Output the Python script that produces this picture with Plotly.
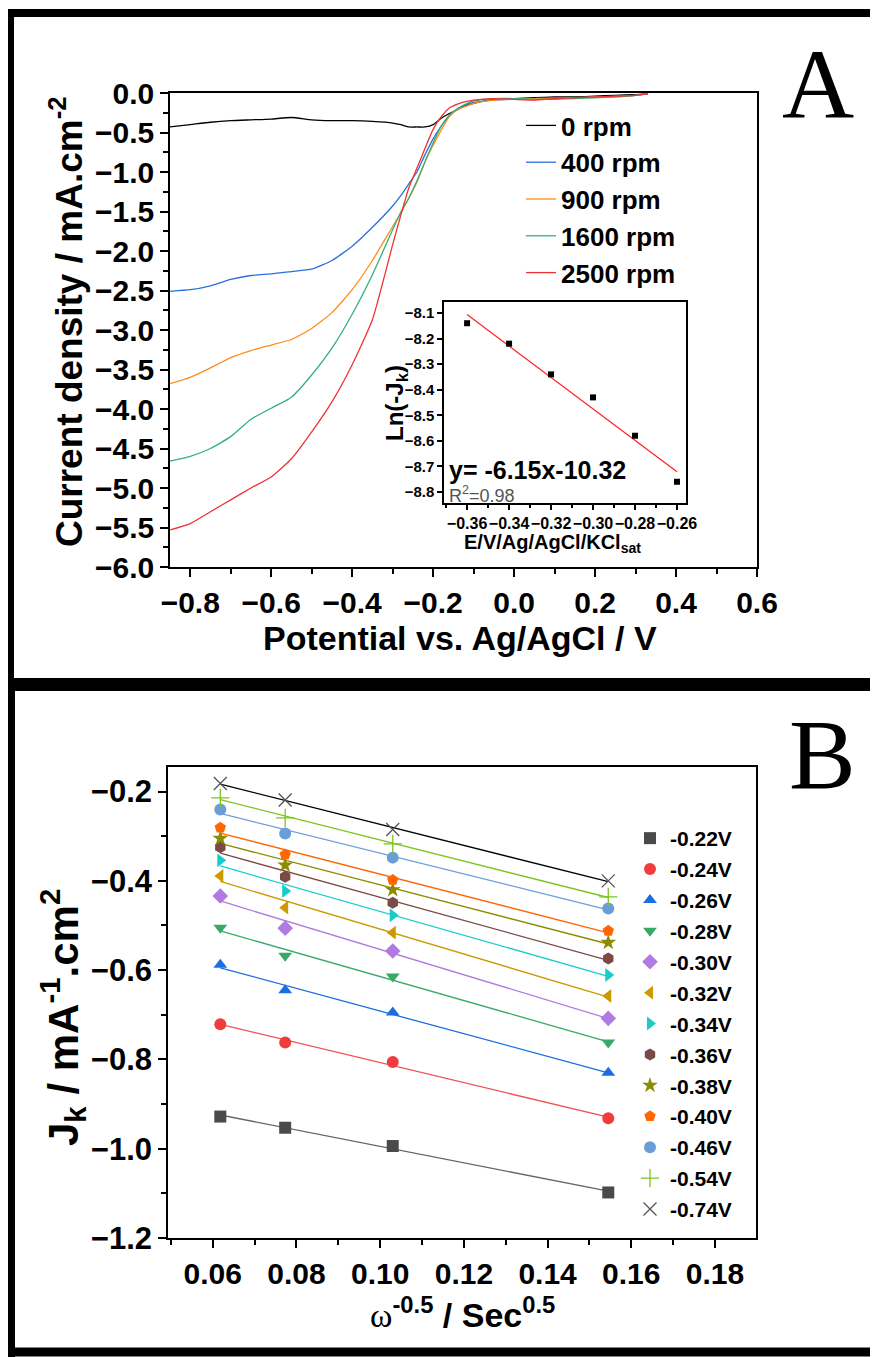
import numpy as np
import plotly.graph_objects as go

PAGE_W, PAGE_H = 878, 1357
OFF = 8  # default page body margin
W, H = PAGE_W - OFF, PAGE_H - OFF
SANS = "Liberation Sans"
SERIF = "Liberation Serif"

# ---------------- Panel A data (LSV curves) ----------------
potential = [-0.85, -0.80, -0.75, -0.70, -0.65, -0.60, -0.55, -0.50, -0.45, -0.40,
             -0.35, -0.30, -0.28, -0.26, -0.24, -0.22, -0.20, -0.18, -0.16, -0.14,
             -0.12, -0.10, -0.05, 0.00, 0.05, 0.10, 0.15, 0.20, 0.25, 0.30, 0.33]
j_0rpm = [-0.43, -0.40, -0.37, -0.35, -0.34, -0.33, -0.31, -0.34, -0.35, -0.35,
          -0.36, -0.38, -0.40, -0.43, -0.43, -0.43, -0.40, -0.32, -0.26, -0.21,
          -0.16, -0.13, -0.08, -0.07, -0.06, -0.05, -0.05, -0.04, -0.03, -0.02, -0.01]
j_400rpm = [-2.51, -2.49, -2.44, -2.36, -2.31, -2.29, -2.26, -2.23, -2.12, -1.94,
            -1.70, -1.43, -1.30, -1.15, -1.00, -0.78, -0.58, -0.42, -0.29, -0.20,
            -0.15, -0.12, -0.09, -0.08, -0.07, -0.06, -0.06, -0.05, -0.04, -0.03, -0.01]
j_900rpm = [-3.68, -3.60, -3.48, -3.35, -3.26, -3.19, -3.12, -2.98, -2.78, -2.49,
            -2.12, -1.69, -1.52, -1.33, -1.13, -0.87, -0.66, -0.47, -0.30, -0.21,
            -0.17, -0.13, -0.09, -0.08, -0.07, -0.07, -0.06, -0.05, -0.05, -0.03, -0.01]
j_1600rpm = [-4.66, -4.60, -4.50, -4.35, -4.13, -3.99, -3.85, -3.57, -3.23, -2.80,
             -2.30, -1.73, -1.51, -1.33, -1.11, -0.87, -0.63, -0.42, -0.28, -0.20,
             -0.14, -0.10, -0.07, -0.07, -0.08, -0.08, -0.07, -0.06, -0.05, -0.03, -0.01]
j_2500rpm = [-5.53, -5.45, -5.30, -5.15, -5.00, -4.86, -4.63, -4.29, -3.91, -3.44,
             -2.87, -1.92, -1.55, -1.20, -0.95, -0.70, -0.46, -0.30, -0.19, -0.14,
             -0.11, -0.09, -0.07, -0.08, -0.09, -0.07, -0.06, -0.05, -0.04, -0.03, -0.01]
rpm_labels = ["0 rpm", "400 rpm", "900 rpm", "1600 rpm", "2500 rpm"]
rpm_colors = ["#000000", "#2a6fe0", "#ff8c1a", "#33b07a", "#f03232"]

# ---------------- Inset data (Tafel-like) ----------------
inset_E = [-0.36, -0.34, -0.32, -0.30, -0.28, -0.26]
inset_lnJk = [-8.14, -8.22, -8.34, -8.43, -8.58, -8.76]
fit_slope = -6.15
fit_intercept = -10.32

# ---------------- Panel B data (Koutecky-Levich) ----------------
omega_inv_sqrt = [0.0618, 0.0773, 0.1030, 0.1545]
jk_022 = [-0.928, -0.953, -0.994, -1.098]
jk_024 = [-0.721, -0.762, -0.806, -0.932]
jk_026 = [-0.588, -0.645, -0.695, -0.830]
jk_028 = [-0.505, -0.568, -0.614, -0.762]
jk_030 = [-0.434, -0.506, -0.557, -0.708]
jk_032 = [-0.389, -0.460, -0.516, -0.658]
jk_034 = [-0.354, -0.423, -0.477, -0.611]
jk_036 = [-0.325, -0.391, -0.449, -0.574]
jk_038 = [-0.305, -0.365, -0.420, -0.538]
jk_040 = [-0.281, -0.341, -0.398, -0.512]
jk_046 = [-0.240, -0.294, -0.348, -0.462]
jk_054 = [-0.214, -0.259, -0.317, -0.436]
jk_074 = [-0.182, -0.219, -0.285, -0.400]
kl_labels = ["-0.22V", "-0.24V", "-0.26V", "-0.28V", "-0.30V", "-0.32V", "-0.34V",
             "-0.36V", "-0.38V", "-0.40V", "-0.46V", "-0.54V", "-0.74V"]
kl_values = [jk_022, jk_024, jk_026, jk_028, jk_030, jk_032, jk_034,
             jk_036, jk_038, jk_040, jk_046, jk_054, jk_074]
kl_symbols = ["square", "circle", "triangle-up", "triangle-down", "diamond",
              "triangle-left", "triangle-right", "hexagon", "star", "pentagon",
              "circle", "cross-thin", "x-thin"]
kl_colors = ["#4a4a4a", "#f03c3c", "#1a6ee0", "#3aa866", "#b07ae0", "#cc9900",
             "#19cccc", "#7a4a47", "#8c8c00", "#ff6600", "#6b9ed6", "#7cc41f", "#555555"]
kl_line_colors = ["#666666", "#f05050", "#1a6ee0", "#3aa866", "#b07ae0", "#cc9900",
                  "#19cccc", "#7a4a47", "#8c8c00", "#ff6600", "#6b9ed6", "#7cc41f", "#000000"]


def px_x(p):
    return (p - OFF) / W


def px_y(p):
    return 1 - (p - OFF) / H


fig = go.Figure()

# Panel A curves
for lab, col, jv in zip(rpm_labels, rpm_colors,
                        [j_0rpm, j_400rpm, j_900rpm, j_1600rpm, j_2500rpm]):
    fig.add_trace(go.Scatter(x=potential, y=jv, mode="lines", name=lab,
                             line=dict(color=col, width=1.3, shape="spline", smoothing=0.5),
                             xaxis="x", yaxis="y", legend="legend"))

# Inset
fit_x = [inset_E[0], inset_E[-1]]
fit_y = [fit_slope * v + fit_intercept for v in fit_x]
fig.add_trace(go.Scatter(x=fit_x, y=fit_y, mode="lines", line=dict(color="#ff2020", width=1.2),
                         showlegend=False, xaxis="x3", yaxis="y3"))
fig.add_trace(go.Scatter(x=inset_E, y=inset_lnJk, mode="markers",
                         marker=dict(symbol="square", size=6, color="black"),
                         showlegend=False, xaxis="x3", yaxis="y3"))

# Panel B fits and markers
xo = np.array(omega_inv_sqrt)
for lab, vals, sym, col, lcol in zip(kl_labels, kl_values, kl_symbols, kl_colors, kl_line_colors):
    p = np.polyfit(xo, np.array(vals), 1)
    xl = np.array([xo.min(), xo.max()])
    fig.add_trace(go.Scatter(x=xl, y=np.polyval(p, xl), mode="lines",
                             line=dict(color=lcol, width=1.3), showlegend=False,
                             xaxis="x2", yaxis="y2"))
for lab, vals, sym, col in zip(kl_labels, kl_values, kl_symbols, kl_colors):
    mk = dict(symbol=sym, size=12, color=col)
    if sym in ("cross-thin", "x-thin"):
        mk = dict(symbol=sym, size=13, color=col, line=dict(color=col, width=1.3))
    fig.add_trace(go.Scatter(x=omega_inv_sqrt, y=vals, mode="markers", name=lab,
                             marker=mk, xaxis="x2", yaxis="y2", legend="legend2",
                             legendgroup=lab))


def axis(domain, rng, dtick, tick0, minor_dtick, fmt, size, anchor, ticklen=8, mlen=5):
    return dict(domain=domain, range=rng, dtick=dtick, tick0=tick0, tickformat=fmt,
                showline=True, linecolor="black", linewidth=1.5, mirror=True,
                ticks="outside", ticklen=ticklen, tickwidth=1.5, tickcolor="black",
                showgrid=False, zeroline=False, anchor=anchor, tickangle=0,
                automargin=False,
                tickfont=dict(family=SANS, size=size, color="black", weight="bold"),
                minor=dict(ticks="outside", ticklen=mlen, tickwidth=1.5, tickcolor="black",
                           dtick=minor_dtick, tick0=tick0, showgrid=False))


layout = dict(
    width=W, height=H, autosize=False,
    margin=dict(l=0, r=0, t=0, b=0, pad=0, autoexpand=False),
    paper_bgcolor="white", plot_bgcolor="rgba(0,0,0,0)",
    xaxis=axis([px_x(170), px_x(757)], [-0.85, 0.6], 0.2, -0.8, 0.1, ".1f", 30, "y"),
    yaxis=axis([px_y(567), px_y(93)], [-6, 0], 0.5, 0, 0.25, ".1f", 30, "x"),
    xaxis2=axis([px_x(168), px_x(756)], [0.0493, 0.1898], 0.02, 0.06, 0.01, ".2f", 30, "y2"),
    yaxis2=axis([px_y(1238), px_y(767)], [-1.2, -0.145], 0.2, -1.2, 0.1, ".1f", 31, "x2"),
    xaxis3=axis([px_x(444), px_x(686)], [-0.371, -0.2557], 0.02, -0.36, 0.01, ".2f", 16, "y3", 5, 3),
    yaxis3=axis([px_y(503), px_y(302)], [-8.843, -8.057], 0.1, -8.1, 0.1, ".1f", 15, "x3", 5, 3),
    legend=dict(x=px_x(521), y=px_y(102), xanchor="left", yanchor="top",
                bgcolor="rgba(0,0,0,0)",
                font=dict(family=SANS, size=26, color="black", weight="bold")),
    legend2=dict(x=px_x(630), y=px_y(818), xanchor="left", yanchor="top",
                 bgcolor="rgba(0,0,0,0)", tracegroupgap=0.6,
                 font=dict(family=SANS, size=21, color="black", weight="bold")),
    showlegend=True,
)
fig.update_layout(**layout)

ann = []


def add_ann(text, x, y, size, angle=0, xanchor="center", yanchor="middle", family=SANS,
            color="black", weight="bold"):
    ann.append(dict(text=text, x=px_x(x), y=px_y(y), xref="paper", yref="paper",
                    showarrow=False, xanchor=xanchor, yanchor=yanchor, textangle=angle,
                    font=dict(family=family, size=size, color=color, weight=weight)))


add_ann("A", 818, 84, 100, family=SERIF, weight="normal")
add_ann("B", 822, 754, 100, family=SERIF, weight="normal")
add_ann("Potential vs. Ag/AgCl / V", 460, 638, 34)
add_ann("Current density / mA.cm<sup>-2</sup>", 66, 322, 37, angle=-90)
add_ann("J<sub>k</sub> / mA<sup>-1</sup>.cm<sup>2</sup>", 62, 1018, 42, angle=-90)
add_ann('<span style="font-family:Liberation Serif;font-weight:normal">ω</span><sup>-0.5</sup> / Sec<sup>0.5</sup>',
        462, 1312, 34)
add_ann("Ln(-J<sub>k</sub>)", 396, 403, 24, angle=-90)
add_ann("E/V/Ag/AgCl/KCl<sub>sat</sub>", 552, 544, 20)
add_ann("y= -6.15x-10.32", 447, 470, 25, xanchor="left")
add_ann("R<sup>2</sup>=0.98", 447, 494, 18, xanchor="left", color="#555555", weight="normal")
fig.update_layout(annotations=ann)

# Panel frames
shapes = []
for (x0, y0, x1, y1, w) in [(0, 13, PAGE_W, 13, 8), (10.5, 9, 10.5, 691, 7),
                            (0, 684.5, PAGE_W, 684.5, 13), (11.5, 678, 11.5, PAGE_H, 7),
                            (0, 1352, PAGE_W, 1352, 9)]:
    shapes.append(dict(type="line", xref="paper", yref="paper",
                       x0=px_x(x0), y0=px_y(y0), x1=px_x(x1), y1=px_y(y1),
                       line=dict(color="black", width=w)))
fig.update_layout(shapes=shapes)

fig.write_html("out.html")
